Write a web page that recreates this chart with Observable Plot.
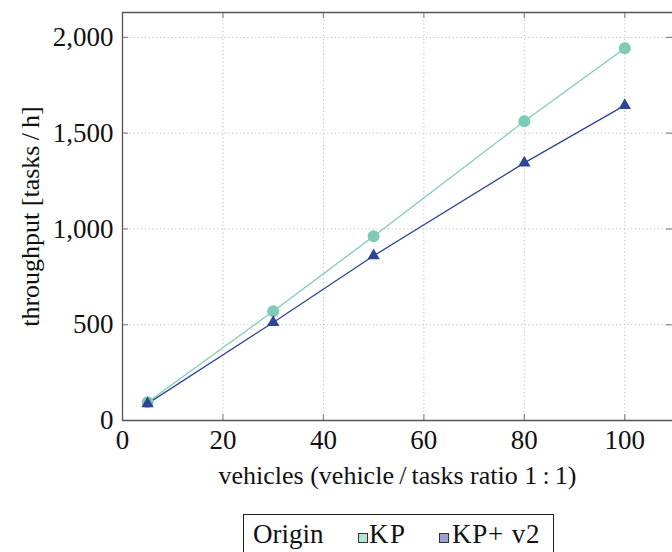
<!DOCTYPE html>
<html><head><meta charset="utf-8">
<script src="https://cdn.jsdelivr.net/npm/d3@7"></script>
<script src="https://cdn.jsdelivr.net/npm/@observablehq/plot@0.6"></script>
<style>
html,body{margin:0;padding:0;background:#fff;overflow:hidden;}
body{width:672px;height:552px;position:relative;font-family:"Liberation Serif",serif;}
#legend{position:absolute;left:243px;top:514px;width:311px;height:50px;border:1px solid #222;box-sizing:border-box;font-size:27px;color:#111;white-space:nowrap;font-family:"Liberation Serif",serif;}
#legend span{position:absolute;}
#legend .lab{top:4px;line-height:30px;}
#legend .sw{top:18px;width:8px;height:8px;border:1px solid #333;}
</style></head><body><div id="chart"></div><div id="legend"></div>
<script>
const vehicles = [5, 30, 50, 80, 100];
const kp = [95, 570, 962, 1562, 1943];
const kpV2 = [88, 512, 860, 1345, 1645];
const xTicks = [0, 20, 40, 60, 80, 100];
const yTicks = [0, 500, 1000, 1500, 2000];
const seriesNames = ["KP", "KP+ v2"];
const lineColors = ["#7fcbb8", "#2e4494"];
const swatchColors = ["#b5e2d6", "#9aa3cf"];
const legendTitle = "Origin";
const xLabel = "vehicles (vehicle\u2009/\u2009tasks ratio 1\u2009:\u20091)";
const yLabel = "throughput [tasks\u2009/\u2009h]";

const rows = [];
vehicles.forEach((v, i) => {
  rows.push({x: v, y: kp[i], s: seriesNames[0]});
  rows.push({x: v, y: kpV2[i], s: seriesNames[1]});
});
const kpRows = rows.filter(d => d.s === seriesNames[0]);
const v2Rows = rows.filter(d => d.s === seriesNames[1]);

const W = 672, H = 500, mL = 122, mR = 0, mT = 12, mB = 80;
const plotW = W - mL - mR, plotH = H - mT - mB;
const tk = 6;
const gridStyle = {stroke: "#bdbdbd", strokeDasharray: "1.2,2.6", strokeWidth: 1};
const tickStyle = {stroke: "#8a8a8a", strokeWidth: 1.2};
const frameStyle = {stroke: "#555", strokeWidth: 1.3};
const serif = "Liberation Serif, serif";

const chart = Plot.plot({
  width: W, height: H,
  marginLeft: mL, marginRight: mR, marginTop: mT, marginBottom: mB,
  style: {fontFamily: serif, fontSize: "27px", color: "#111", background: "#fff"},
  x: {domain: [0, 109.5]},
  y: {domain: [0, 2130]},
  marks: [
    Plot.ruleY(yTicks.slice(1), gridStyle),
    Plot.ruleX(xTicks.slice(1), gridStyle),
    Plot.ruleX(xTicks.slice(1), {...tickStyle, insetTop: plotH - tk}),
    Plot.ruleX(xTicks.slice(1), {...tickStyle, insetBottom: plotH - tk}),
    Plot.ruleY(yTicks.slice(1), {...tickStyle, insetRight: plotW - tk}),
    Plot.ruleY(yTicks.slice(1), {...tickStyle, insetLeft: plotW - tk}),
    Plot.ruleY([0], frameStyle),
    Plot.ruleY([2130], frameStyle),
    Plot.ruleX([0], frameStyle),
    Plot.line(kpRows, {x: "x", y: "y", stroke: lineColors[0], strokeWidth: 1.3}),
    Plot.line(v2Rows, {x: "x", y: "y", stroke: lineColors[1], strokeWidth: 1.3}),
    Plot.dot(kpRows, {x: "x", y: "y", r: 6, fill: lineColors[0], stroke: "none"}),
    Plot.dot(v2Rows, {x: "x", y: "y", r: 4.6, symbol: "triangle", fill: lineColors[1], stroke: "none"}),
    Plot.axisX({ticks: xTicks, tickSize: 0, tickPadding: 9, label: null, fontSize: 27, fontFamily: serif}),
    Plot.axisY({ticks: yTicks, tickSize: 0, tickPadding: 9, tickFormat: d3.format(","), label: null, fontSize: 27, fontFamily: serif}),
    Plot.text([xLabel], {text: d => d, frameAnchor: "bottom", dy: 63, fontSize: 26, fill: "#111", fontFamily: serif}),
    Plot.text([yLabel], {text: d => d, frameAnchor: "left", textAnchor: "middle", dx: -92, rotate: -90, fontSize: 26, fill: "#111", fontFamily: serif})
  ]
});
document.getElementById("chart").appendChild(chart);

// legend (HTML, below the SVG)
const lg = document.getElementById("legend");
const swLeft = [114, 195];
const labLeft = [125, 208];
const labSpacing = ["1.5px", "0.8px"];
const title = document.createElement("span");
title.className = "lab";
title.style.left = "9px";
title.textContent = legendTitle;
lg.appendChild(title);
seriesNames.forEach((n, i) => {
  const sw = document.createElement("span");
  sw.className = "sw";
  sw.style.left = swLeft[i] + "px";
  sw.style.background = swatchColors[i];
  lg.appendChild(sw);
  const lab = document.createElement("span");
  lab.className = "lab";
  lab.style.left = labLeft[i] + "px";
  lab.style.letterSpacing = labSpacing[i];
  lab.textContent = n;
  lg.appendChild(lab);
});
</script>
</body></html>
